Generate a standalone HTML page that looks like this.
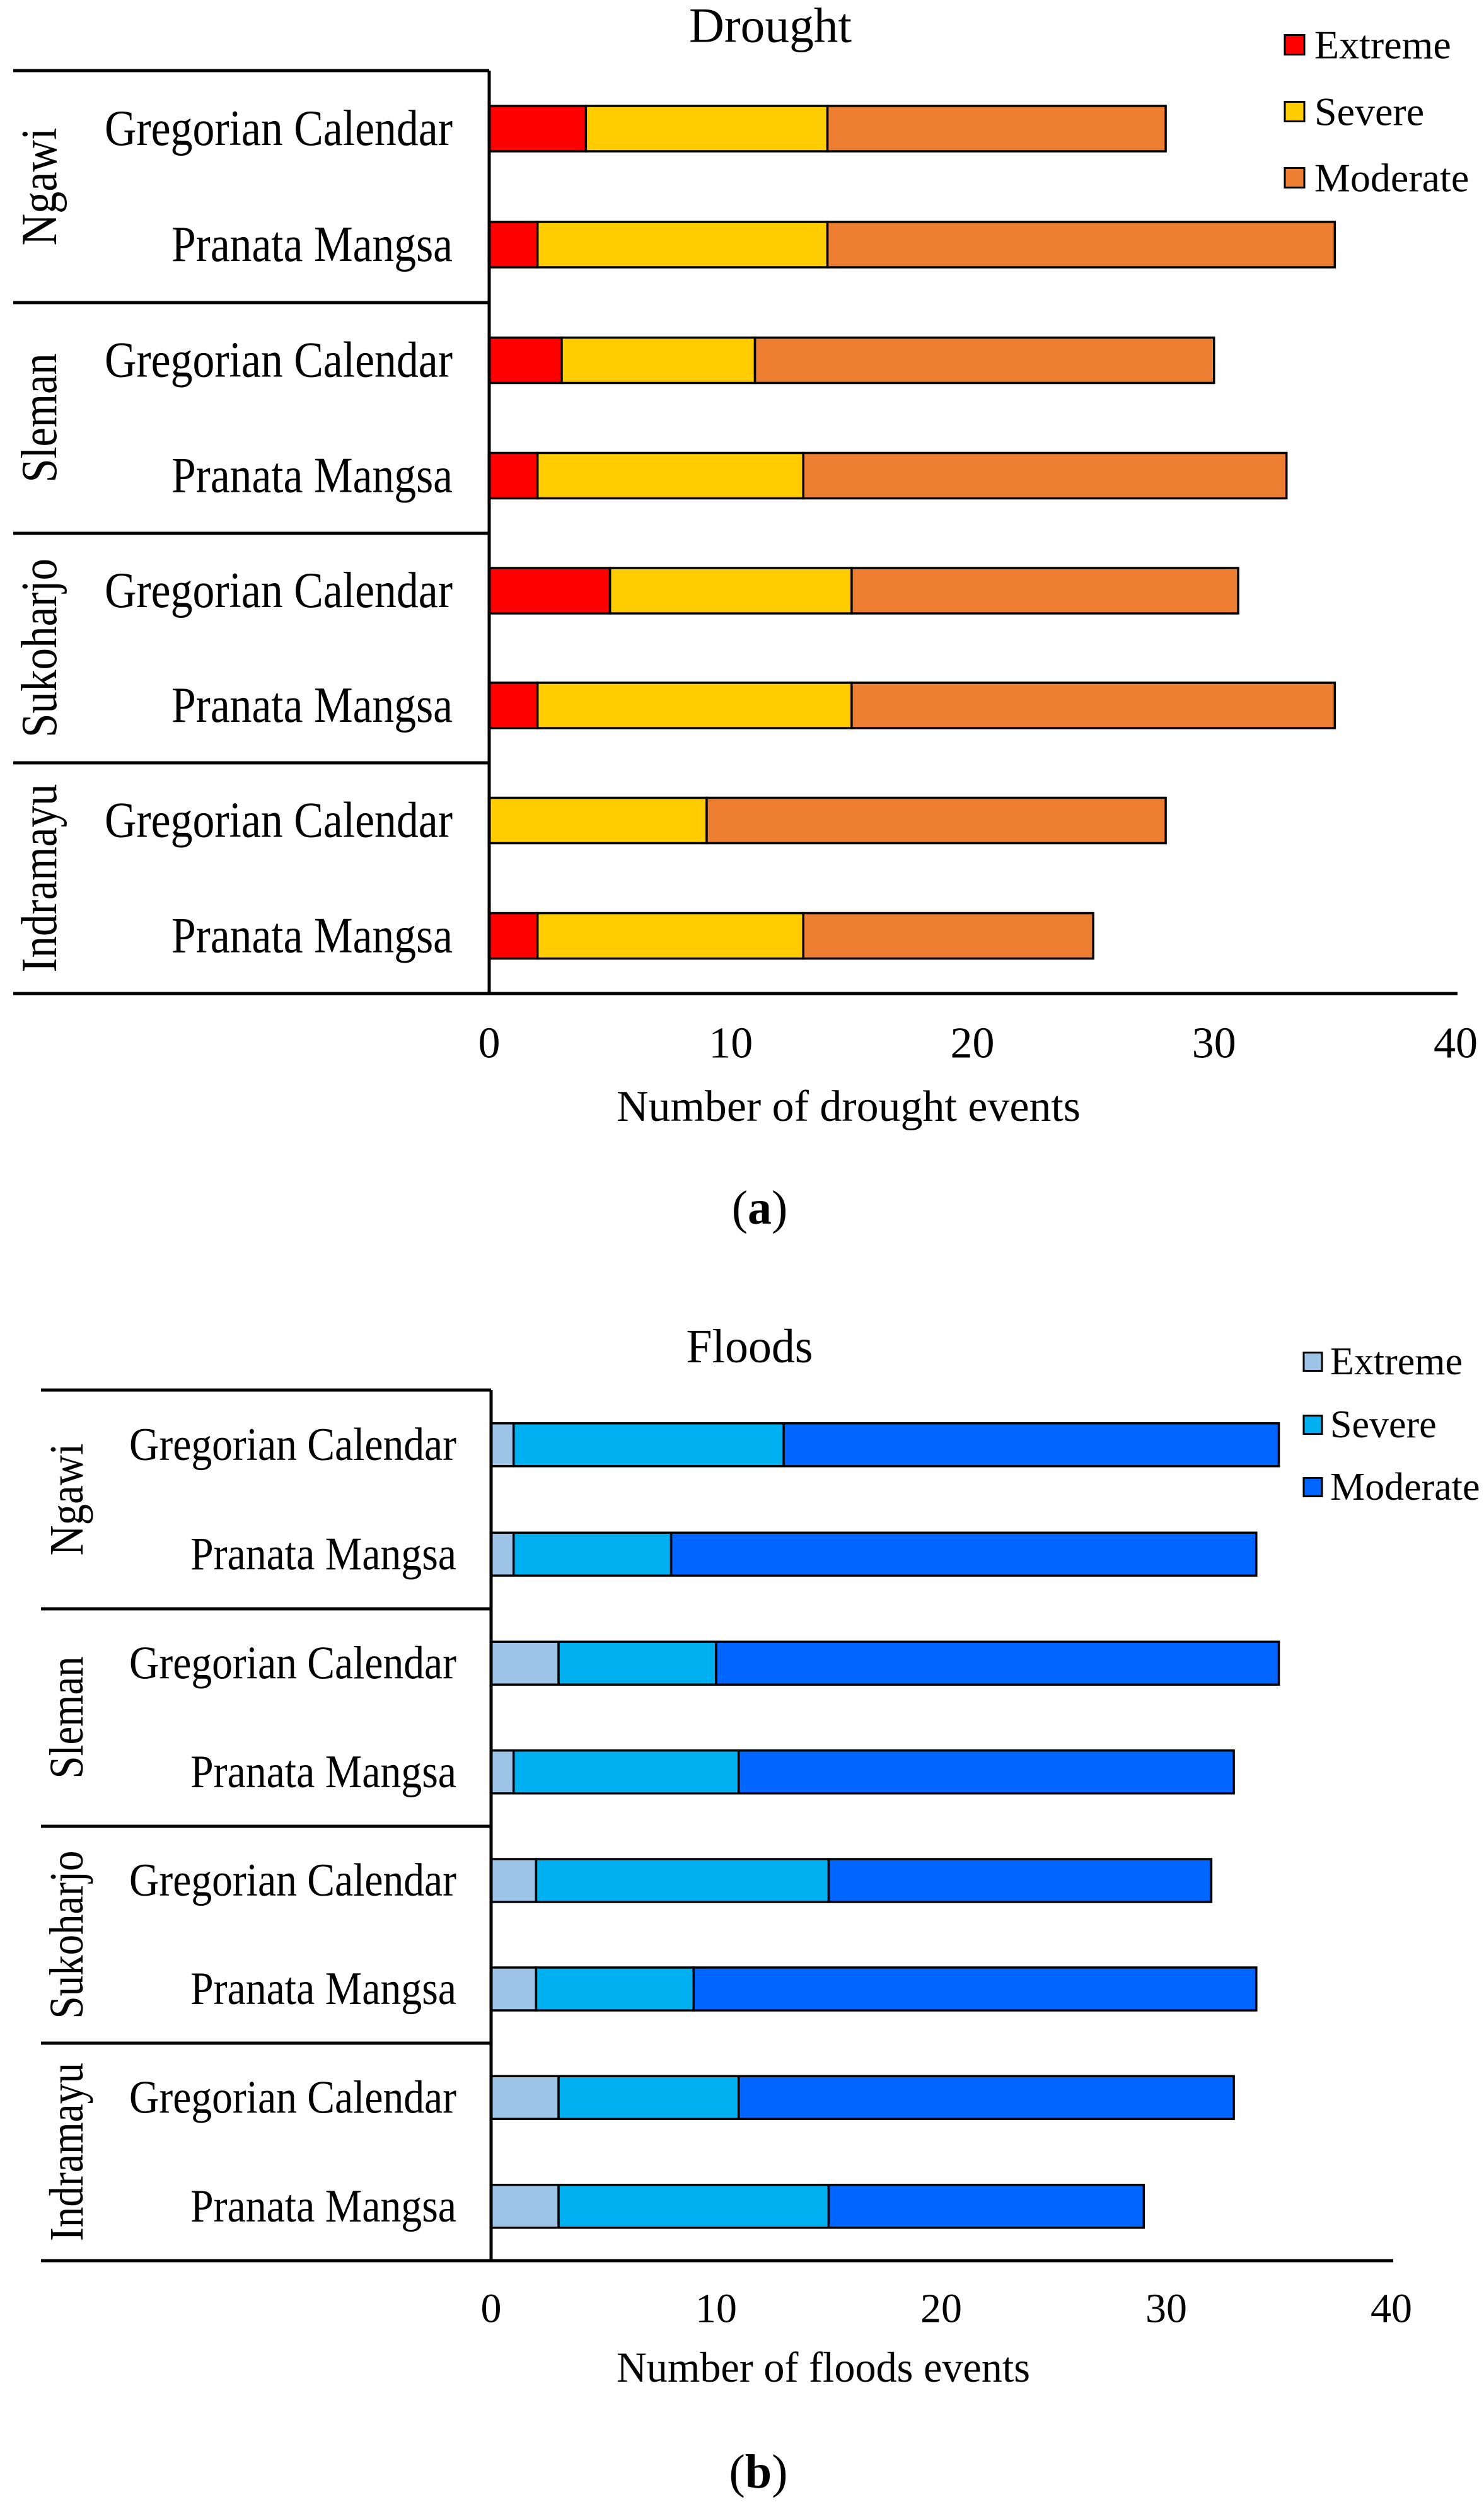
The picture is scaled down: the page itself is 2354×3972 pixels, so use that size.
<!DOCTYPE html>
<html><head><meta charset="utf-8"><style>
html,body{margin:0;padding:0;background:#fff;}
svg{display:block;font-family:"Liberation Serif","Times New Roman",serif;}
</style></head><body>
<svg id="fig" width="2354" height="3972" viewBox="0 0 2354 3972" xmlns="http://www.w3.org/2000/svg"></svg>
<script>
const regions = ["Ngawi","Sleman","Sukoharjo","Indramayu"];
const methods = ["Gregorian Calendar","Pranata Mangsa"];
const severities = ["Extreme","Severe","Moderate"];
const xTicks = [0,10,20,30,40];
// drought (a): per bar in order Ngawi GC, Ngawi PM, Sleman GC, Sleman PM, Sukoharjo GC, Sukoharjo PM, Indramayu GC, Indramayu PM
const droughtExtreme = [4,2,3,2,5,2,0,2];
const droughtSevere = [10,12,8,11,10,13,9,11];
const droughtModerate = [14,21,19,20,16,20,19,12];
// floods (b)
const floodExtreme = [1,1,3,1,2,2,3,3];
const floodSevere = [12,7,7,10,13,7,8,12];
const floodModerate = [22,26,25,22,17,25,22,14];

const NS = "http://www.w3.org/2000/svg";
const svg = document.getElementById("fig");
function mk(tag, attrs, parent){
  const e = document.createElementNS(NS, tag);
  for (const k in attrs) e.setAttribute(k, attrs[k]);
  (parent||svg).appendChild(e);
  return e;
}

function drawChart(cfg){
  const g = mk("g", {});
  
  
  const xs = v => cfg.x0 + (v - 0) / 40 * (cfg.x40 - cfg.x0);
  const B = cfg.bounds;
  const rowY = i => { const gi = Math.floor(i/2); const h = B[gi+1]-B[gi]; return B[gi] + h*(i%2===0?0.25:0.75); };
  // title
  const t = mk("text", {x:cfg.titleX, y:cfg.titleY, "text-anchor":"middle", "dominant-baseline":"central", "font-size":cfg.titleFs, textLength:cfg.titleW, lengthAdjust:"spacingAndGlyphs"}, g);
  t.textContent = cfg.title;
  
  
  // bars
  const series = [cfg.ext, cfg.sev, cfg.mod];
  for (let i=0;i<8;i++){
    let acc = 0;
    const bg = mk("g", {}, g);
    
    
    for (let s=0;s<3;s++){
      const v = series[s][i];
      if (v>0){
        const r = mk("rect", {x:xs(acc), y:rowY(i)-cfg.barH/2, width:xs(acc+v)-xs(acc), height:cfg.barH, fill:cfg.colors[s], stroke:"#000", "stroke-width":3.5}, bg);
        
        
      }
      acc += v;
    }
  }
  // category lines
  for (let k=0;k<4;k++){
    const l = mk("line", {x1:cfg.left, x2:cfg.x0, y1:B[k], y2:B[k], stroke:"#000", "stroke-width":5}, g);
    
    
  }
  const ax = mk("line", {x1:cfg.x0, x2:cfg.x0, y1:B[0], y2:B[4], stroke:"#000", "stroke-width":5}, g);
  
  
  const bl = mk("line", {x1:cfg.left, x2:cfg.x40+3, y1:B[4], y2:B[4], stroke:"#000", "stroke-width":5}, g);
  
  
  // category labels
  for (let i=0;i<8;i++){
    const m = i%2;
    const tx = mk("text", {x:cfg.labRight, y:rowY(i), "text-anchor":"end", "dominant-baseline":"central", "font-size":cfg.labFs, textLength:cfg.labW[m], lengthAdjust:"spacingAndGlyphs"}, g);
    tx.textContent = methods[m];
    
    
  }
  for (let k=0;k<4;k++){
    const cy = (B[k]+B[k+1])/2;
    const tx = mk("text", {x:0, y:0, transform:"translate("+cfg.regX+","+cy+") rotate(-90)", "text-anchor":"middle", "dominant-baseline":"central", "font-size":cfg.regFs, textLength:cfg.regW[k], lengthAdjust:"spacingAndGlyphs"}, g);
    tx.textContent = regions[k];
    
    
  }
  // ticks
  xTicks.forEach(v=>{
    const tx = mk("text", {x:xs(v), y:cfg.tickY, "text-anchor":"middle", "dominant-baseline":"central", "font-size":cfg.tickFs}, g);
    tx.textContent = String(v);
    
    
  });
  const at = mk("text", {x:cfg.axTitleX, y:cfg.axTitleY, "text-anchor":"middle", "font-size":cfg.axFs, textLength:cfg.axW, lengthAdjust:"spacingAndGlyphs"}, g);
  at.textContent = cfg.axTitle;
  
  
  // legend
  for (let s=0;s<3;s++){
    const lg = mk("g", {}, g);
    
    
    const y = cfg.legY[s];
    mk("rect", {x:cfg.legX, y:y-cfg.legSq/2, width:cfg.legSq, height:cfg.legSq, fill:cfg.colors[s], stroke:"#000", "stroke-width":3}, lg);
    const tx = mk("text", {x:cfg.legTX, y:y, "dominant-baseline":"central", "font-size":cfg.legFs}, lg);
    tx.textContent = severities[s];
  }
  // panel label
  const pl = mk("text", {x:cfg.panelX, y:cfg.panelY, "text-anchor":"middle", "dominant-baseline":"central", "font-size":76}, g);
  
  
  pl.appendChild(document.createTextNode("("));
  const b = mk("tspan", {"font-weight":"bold"}, pl); b.textContent = cfg.panel;
  pl.appendChild(document.createTextNode(")"));
}

drawChart({id:"drought", title:"Drought", titleX:1222, titleY:40, titleFs:78, titleW:258,
  x0:776, x40:2309, left:21, bounds:[112,480,846,1210,1576], barH:72,
  ext:droughtExtreme, sev:droughtSevere, mod:droughtModerate,
  colors:["#FF0000","#FFCC00","#ED7D31"],
  labRight:718, labFs:80, labW:[552,446], regX:63, regFs:80, regW:[187,205,284,299],
  tickY:1655, tickFs:70, axTitle:"Number of drought events", axTitleX:1346, axTitleY:1778, axFs:70, axW:736,
  legX:2038, legTX:2085, legSq:31, legY:[71,177,282], legFs:64,
  panel:"a", panelX:1205, panelY:1916});

drawChart({id:"floods", title:"Floods", titleX:1189, titleY:2136, titleFs:76, titleW:201,
  x0:779, x40:2207, left:65, bounds:[2205,2552,2897,3241,3586], barH:68,
  ext:floodExtreme, sev:floodSevere, mod:floodModerate,
  colors:["#9DC3E6","#00B0F0","#0066FF"],
  labRight:724, labFs:74, labW:[519,422], regX:106, regFs:76, regW:[178,194,267,283],
  tickY:3662, tickFs:66, axTitle:"Number of floods events", axTitleX:1306, axTitleY:3778, axFs:68, axW:656,
  legX:2068, legTX:2110, legSq:29, legY:[2160,2260,2359], legFs:62,
  panel:"b", panelX:1203, panelY:3921});
</script>
</body></html>
